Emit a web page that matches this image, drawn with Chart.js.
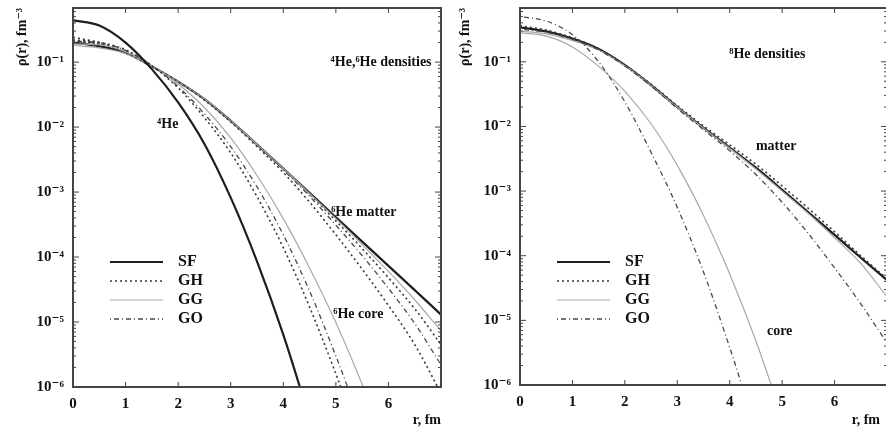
<!DOCTYPE html>
<html><head><meta charset="utf-8">
<script src="https://cdn.jsdelivr.net/npm/chart.js@4"></script>
<style>
html,body{margin:0;padding:0;background:#fff;width:886px;height:431px;overflow:hidden}
#wrapL{position:absolute;left:0;top:0;width:443px;height:431px;overflow:hidden}
#wrapR{position:absolute;left:443px;top:0;width:443px;height:431px;overflow:hidden}
</style></head><body>
<div id="wrapL"><canvas id="cL" width="443" height="431"></canvas></div>
<div id="wrapR"><canvas id="cR" width="446" height="431"></canvas></div>
<script>
// ---------- data ----------
const rValues = [0, 0.5, 1, 1.5, 2, 2.5, 3, 3.5, 4, 4.5, 5, 5.5, 6, 6.5, 7];
const xTickLabels = ['0', '1', '2', '3', '4', '5', '6', ''];
const yTickValues = [1e-6, 1e-5, 1e-4, 1e-3, 1e-2, 1e-1];
const yTickLabels = ['10⁻⁶', '10⁻⁵', '10⁻⁴', '10⁻³', '10⁻²', '10⁻¹'];
const legendLabels = ['SF', 'GH', 'GG', 'GO'];

// left panel: 4He and 6He
const he4SF        = [0.44, 0.366, 0.20, 0.078, 0.024, 0.0055, 8.2e-4, 8.6e-5, 6.4e-6, 3.3e-7];
const he6CoreGH    = [0.22, 0.20, 0.155, 0.088, 0.040, 0.014, 0.0040, 8.5e-4, 1.4e-4, 1.7e-5, 1.6e-6, 1.3e-7];
const he6CoreGO    = [0.21, 0.20, 0.152, 0.088, 0.042, 0.016, 0.0050, 1.2e-3, 2.2e-4, 3.0e-5, 3.0e-6, 2.5e-7];
const he6CoreGG    = [0.19, 0.185, 0.145, 0.088, 0.046, 0.020, 0.0068, 1.8e-3, 3.9e-4, 6.8e-5, 9.8e-6, 1.1e-6, 1e-7];
const he6MatterSF  = [0.20, 0.175, 0.14, 0.086, 0.050, 0.027, 0.0125, 5.4e-3, 2.3e-3, 9.7e-4, 4.1e-4, 1.73e-4, 7.3e-5, 3.1e-5, 1.3e-5];
const he6MatterGH  = [0.24, 0.20, 0.145, 0.086, 0.050, 0.027, 0.0125, 5.4e-3, 2.3e-3, 9.3e-4, 3.6e-4, 1.35e-4, 4.8e-5, 1.6e-5, 4.5e-6];
const he6MatterGG  = [0.18, 0.165, 0.135, 0.086, 0.050, 0.027, 0.0125, 5.4e-3, 2.3e-3, 9.5e-4, 3.9e-4, 1.55e-4, 6.0e-5, 2.2e-5, 7.3e-6];
const he6MatterGO  = [0.21, 0.19, 0.14, 0.086, 0.050, 0.027, 0.0124, 5.3e-3, 2.2e-3, 8.6e-4, 3.1e-4, 1.05e-4, 3.3e-5, 9.5e-6, 2.2e-6];
const he6TailGH    = [0.21, 0.19, 0.14, 0.086, 0.050, 0.026, 0.0120, 5.0e-3, 2.0e-3, 7.0e-4, 2.2e-4, 6.5e-5, 1.8e-5, 4.5e-6, 8e-7];

// right panel: 8He
const he8MatterSF  = [0.34, 0.295, 0.229, 0.158, 0.089, 0.0437, 0.020, 0.0095, 0.0047, 0.0023, 1.05e-3, 4.7e-4, 2.1e-4, 9.3e-5, 4.2e-5];
const he8MatterGH  = [0.36, 0.31, 0.235, 0.160, 0.090, 0.045, 0.021, 0.0102, 0.0052, 0.0026, 1.2e-3, 5.4e-4, 2.35e-4, 1.0e-4, 4.4e-5];
const he8MatterGG  = [0.30, 0.27, 0.215, 0.152, 0.087, 0.0432, 0.0198, 0.0094, 0.0046, 0.0022, 1.0e-3, 4.5e-4, 1.9e-4, 7.6e-5, 2.3e-5];
const he8MatterGO  = [0.32, 0.285, 0.222, 0.152, 0.086, 0.042, 0.019, 0.0089, 0.0042, 0.0018, 6.7e-4, 2.2e-4, 6.5e-5, 1.8e-5, 4.5e-6];
const he8CoreGO    = [0.50, 0.427, 0.263, 0.10, 0.024, 3.98e-3, 5.6e-4, 5.6e-5, 3.8e-6, 2e-7];
const he8CoreGG    = [0.28, 0.25, 0.17, 0.085, 0.035, 0.011, 2.5e-3, 4.2e-4, 5.2e-5, 4.8e-6, 3.2e-7];

// text labels (data coordinates)
const leftNotes  = [
  {text: '⁴He,⁶He densities', r: 4.9, rho: 0.1},
  {text: '⁴He', r: 1.6, rho: 0.011},
  {text: '⁶He matter', r: 4.91, rho: 4.9e-4},
  {text: '⁶He core', r: 4.95, rho: 1.3e-5}
];
const rightNotes = [
  {text: '⁸He densities', r: 3.99, rho: 0.128},
  {text: 'matter', r: 4.5, rho: 5.0e-3},
  {text: 'core', r: 4.71, rho: 6.8e-6}
];

// ---------- styles ----------
const STYLE = {
  SF: {borderColor: '#1e1e1e', borderWidth: 2.2, borderDash: []},
  GH: {borderColor: '#3a3a3a', borderWidth: 1.6, borderDash: [2, 3]},
  GG: {borderColor: '#a8a8a8', borderWidth: 1.2, borderDash: []},
  GO: {borderColor: '#4a4a4a', borderWidth: 1.3, borderDash: [1, 3, 5, 3]}
};
const FONT = '"Liberation Serif", "DejaVu Serif", serif';

function series(label, arr, model) {
  const pts = [];
  arr.forEach((v, i) => { if (v != null) pts.push({x: rValues[i], y: v}); });
  return Object.assign({
    label: label, data: pts, pointRadius: 0, fill: false,
    cubicInterpolationMode: 'monotone', tension: 0.4
  }, STYLE[model]);
}

const framePlugin = {
  id: 'frame',
  afterDatasetsDraw(chart) {
    const ctx = chart.ctx, a = chart.chartArea;
    const xs = chart.scales.x, ys = chart.scales.y;
    ctx.save();
    ctx.strokeStyle = '#444';
    ctx.lineWidth = 1;
    ctx.beginPath();
    for (let i = 0; i <= 7; i++) {
      const px = xs.getPixelForValue(i);
      ctx.moveTo(px, a.bottom); ctx.lineTo(px, a.bottom - 5);
      ctx.moveTo(px, a.top); ctx.lineTo(px, a.top + 5);
    }
    yTickValues.concat([1]).forEach(dec => {
      for (let m = 1; m <= 9; m++) {
        const v = dec / 10 * m;
        if (v < ys.min || v > ys.max) continue;
        const py = ys.getPixelForValue(v);
        const len = m === 1 ? 6 : 3;
        ctx.moveTo(a.left, py); ctx.lineTo(a.left + len, py);
        ctx.moveTo(a.right, py); ctx.lineTo(a.right - len, py);
      }
    });
    ctx.stroke();
    ctx.lineWidth = 2;
    ctx.strokeRect(a.left, a.top, a.right - a.left, a.bottom - a.top);
    ctx.fillStyle = '#111';
    ctx.font = 'bold 14px ' + FONT;
    ctx.textAlign = 'left';
    ctx.textBaseline = 'middle';
    (chart.options.plugins.frame.notes || []).forEach(n => {
      ctx.fillText(n.text, xs.getPixelForValue(n.r), ys.getPixelForValue(n.rho));
    });
    const lx = a.left + 37, tx = a.left + 105;
    ctx.font = 'bold 16px ' + FONT;
    legendLabels.forEach((lab, i) => {
      const st = STYLE[lab];
      const y = a.top + 254 + i * 19;
      ctx.save();
      ctx.strokeStyle = st.borderColor;
      ctx.lineWidth = st.borderWidth;
      ctx.setLineDash(st.borderDash);
      ctx.beginPath(); ctx.moveTo(lx, y); ctx.lineTo(lx + 53, y); ctx.stroke();
      ctx.restore();
      ctx.fillStyle = '#111';
      ctx.fillText(lab, tx, y);
    });
    ctx.restore();
  }
};

function makeChart(id, datasets, notes, yWidth, xHeight, padRight, xTitle) {
  return new Chart(document.getElementById(id), {
    type: 'line',
    data: {datasets: datasets},
    plugins: [framePlugin],
    options: {
      responsive: false, animation: false,
      layout: {padding: {top: 8, right: padRight, left: 0, bottom: 0}},
      plugins: {legend: {display: false}, tooltip: {enabled: false}, frame: {notes: notes}},
      scales: {
        x: {
          type: 'linear', min: 0, max: 7,
          grid: {display: false, drawTicks: false},
          border: {display: false},
          afterFit: s => { s.height = xHeight; s.paddingLeft = 0; s.paddingRight = 0; },
          afterBuildTicks: s => { s.ticks = xTickLabels.map((t, i) => ({value: i})); },
          ticks: {
            autoSkip: false, maxRotation: 0, padding: 8, color: '#111',
            font: {family: FONT, size: 15, weight: 'bold'},
            callback: (v) => xTickLabels[v] ?? ''
          },
          title: {display: true, text: xTitle, align: 'end', color: '#111',
                  font: {family: FONT, size: 14, weight: 'bold'}, padding: {top: 0, bottom: 2}}
        },
        y: {
          type: 'logarithmic', min: 1e-6, max: 0.68,
          grid: {display: false, drawTicks: false},
          border: {display: false},
          afterFit: s => { s.width = yWidth; s.paddingTop = 0; s.paddingBottom = 0; },
          afterBuildTicks: s => { s.ticks = yTickValues.map(v => ({value: v})); },
          ticks: {
            autoSkip: false, padding: 9, color: '#111',
            font: {family: FONT, size: 15, weight: 'bold'},
            callback: (v) => { const i = yTickValues.findIndex(t => Math.abs(t - v) / t < 1e-6); return i >= 0 ? yTickLabels[i] : ''; }
          },
          title: {display: true, text: 'ρ(r), fm⁻³', align: 'end', color: '#111',
                  font: {family: FONT, size: 14, weight: 'bold'}, padding: {top: 14, bottom: 0}}
        }
      }
    }
  });
}

makeChart('cL', [
  series('⁴He SF', he4SF, 'SF'),
  series('⁶He core GH', he6CoreGH, 'GH'),
  series('⁶He core GO', he6CoreGO, 'GO'),
  series('⁶He core GG', he6CoreGG, 'GG'),
  series('⁶He core tail GH', he6TailGH, 'GH'),
  series('⁶He matter GG', he6MatterGG, 'GG'),
  series('⁶He matter GO', he6MatterGO, 'GO'),
  series('⁶He matter GH', he6MatterGH, 'GH'),
  series('⁶He matter SF', he6MatterSF, 'SF')
], leftNotes, 73, 44, 2, 'r, fm');

makeChart('cR', [
  series('⁸He core GO', he8CoreGO, 'GO'),
  series('⁸He core GG', he8CoreGG, 'GG'),
  series('⁸He matter GO', he8MatterGO, 'GO'),
  series('⁸He matter GG', he8MatterGG, 'GG'),
  series('⁸He matter GH', he8MatterGH, 'GH'),
  series('⁸He matter SF', he8MatterSF, 'SF')
], rightNotes, 77, 46, 2, 'r, fm  ');
</script>
</body></html>
